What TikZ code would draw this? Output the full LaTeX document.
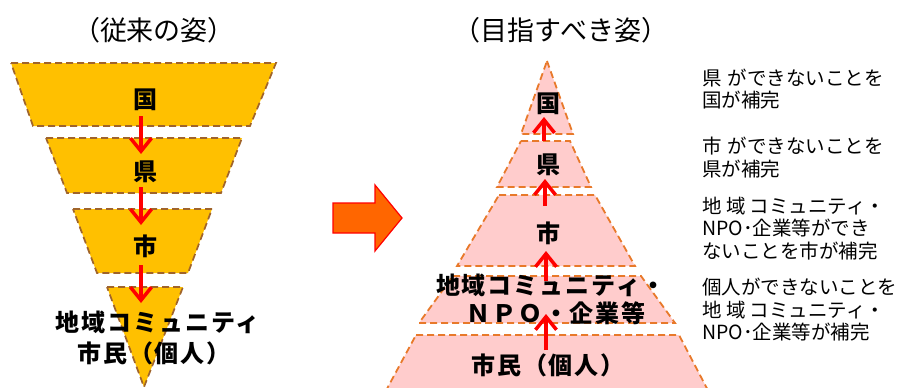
\documentclass[tikz,border=0pt]{standalone}
\usepackage{fontspec}
\setmainfont{Noto Sans CJK JP}
\usetikzlibrary{arrows.meta}
\definecolor{gold}{HTML}{FFC000}
\definecolor{brownd}{HTML}{A0642A}
\definecolor{pinkf}{HTML}{FFCCCC}
\definecolor{orad}{HTML}{E8792A}
\definecolor{blockf}{HTML}{FF6600}
\tikzset{
  oldpart/.style={fill=gold, draw=brownd, dash pattern=on 7pt off 4pt, line width=1.7pt},
  newpart/.style={fill=pinkf, draw=orad, dash pattern=on 7pt off 4pt, line width=1.8pt},
  lbl/.style={font=\fontsize{24}{28}\selectfont\bfseries\addfontfeature{LetterSpace=8}, inner sep=0pt},
  ttl/.style={font=\fontsize{27}{31}\selectfont, inner sep=0pt},
  note/.style={font=\fontsize{19.5}{22.5}\selectfont, inner sep=0pt, anchor=west, align=left},
  flow/.style={draw=red, line width=3.5pt, -{Straight Barb[length=13pt 0, width=21pt 0]}},
  blockarrow/.style={fill=blockf, draw=red, line width=1.2pt, line join=miter}
}
\begin{document}
\begin{tikzpicture}[x=1pt,y=-1pt]
\useasboundingbox (0,0) rectangle (898,388);
\clip (0,0) rectangle (898,388);
% titles
\node[ttl] (t1) at (154,30) {（従来の姿）};
\node[ttl] (t2) at (561,30) {（目指すべき姿）};
% old pyramid (inverted)
\path[oldpart] (11,63) -- (276,63) -- (250,126) -- (33,126) -- cycle;
\path[oldpart] (46,138) -- (242,138) -- (221,193) -- (67,193) -- cycle;
\path[oldpart] (73,209) -- (212,209) -- (188,273) -- (97,273) -- cycle;
\path[oldpart] (107,287) -- (183,287) -- (144,387) -- cycle;
% new pyramid
\path[newpart] (547,61) -- (573,134) -- (521,134) -- cycle;
\path[newpart] (521,141) -- (570,141) -- (591,187) -- (497,187) -- cycle;
\path[newpart] (499,195) -- (595,195) -- (635,266) -- (457,266) -- cycle;
\path[newpart] (453,276) -- (641,276) -- (675,323) -- (419,323) -- cycle;
\path[newpart] (416,335) -- (679,335) -- (712,398) -- (382,398) -- cycle;
% block arrow
\path[blockarrow] (333,203) -- (375,203) -- (375,185) -- (402,218) -- (375,251) -- (375,233) -- (333,233) -- cycle;
% arrow end points
\coordinate (d1a) at (141,116); \coordinate (d1b) at (141,154);
\coordinate (d2a) at (141,187); \coordinate (d2b) at (141,225);
\coordinate (d3a) at (141,265); \coordinate (d3b) at (141,303);
\coordinate (u1a) at (544,141); \coordinate (u1b) at (544,117);
\coordinate (u2a) at (545,206); \coordinate (u2b) at (545,179);
\coordinate (u3a) at (546,281); \coordinate (u3b) at (546,251);
\coordinate (u4a) at (546,350); \coordinate (u4b) at (546,314);
\draw[flow] (d1a) -- (d1b);
\draw[flow] (d2a) -- (d2b);
\draw[flow] (d3a) -- (d3b);
\draw[flow] (u1a) -- (u1b);
\draw[flow] (u2a) -- (u2b);
\draw[flow] (u3a) -- (u3b);
\draw[flow] (u4a) -- (u4b);
% left labels
\node[lbl] (kuniL) at (145,100) {国};
\node[lbl] (kenL) at (145,172) {県};
\node[lbl] (shiL) at (145,246) {市};
\node[lbl] (chiikiL) at (158,322) {地域コミュニティ};
\node[lbl] (shiminL) at (154,353) {市民（個人）};
% right labels
\node[lbl] (kuniR) at (548,104) {国};
\node[lbl] (kenR) at (548,165) {県};
\node[lbl] (shiR) at (548,233) {市};
\node[lbl] (chiikiR) at (551,285) {地域コミュニティ・};
\node[lbl] (npoR) at (556,313) {ＮＰＯ・企業等};
\node[lbl] (shiminR) at (548,365) {市民（個人）};
% notes
\node[note] (n1) at (702,89) {県\hspace{0.3em}ができないことを\\国が補完};
\node[note] (n2) at (702,157.5) {市\hspace{0.3em}ができないことを\\県が補完};
\node[note] (n3) at (702,228.5) {地 域 コミュニティ・\\NPO･企業等ができ\\ないことを市が補完};
\node[note] (n4) at (702,310) {個人ができないことを\\地 域 コミュニティ・\\NPO･企業等が補完};
\end{tikzpicture}
\end{document}
